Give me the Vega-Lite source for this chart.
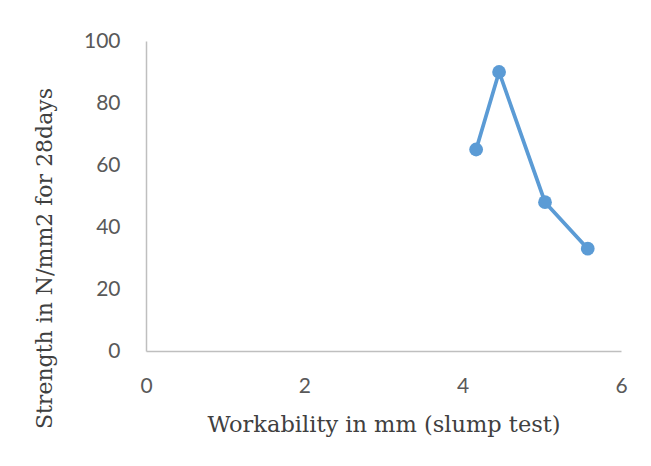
{
  "$schema": "https://vega.github.io/schema/vega-lite/v6.json",
  "autosize": "none",
  "width": 475,
  "height": 310,
  "padding": {"left": 146, "top": 41, "right": 30, "bottom": 115},
  "background": "white",
  "config": {"view": {"stroke": null}},
  "data": {"values": [
    {"slump": 4.17, "strength": 65},
    {"slump": 4.46, "strength": 90},
    {"slump": 5.04, "strength": 48},
    {"slump": 5.58, "strength": 33}
  ]},
  "encoding": {
    "x": {"field": "slump", "type": "quantitative",
      "scale": {"domain": [0, 6], "nice": false, "zero": false},
      "axis": {"title": "Workability in mm (slump test)", "values": [0, 2, 4, 6], "grid": false, "ticks": false, "labelFlush": false,
        "domainColor": "#bfbfbf", "domainWidth": 1.5, "labelFont": "Lato", "labelFontSize": 21, "labelColor": "#595959",
        "labelPadding": 24, "titleFont": "DejaVu Serif", "titleFontSize": 22.5, "titleFontWeight": "normal", "titleColor": "#404040", "titlePadding": 17}},
    "y": {"field": "strength", "type": "quantitative",
      "scale": {"domain": [0, 100], "nice": false},
      "axis": {"title": "Strength in N/mm2 for 28days", "values": [0, 20, 40, 60, 80, 100], "grid": false, "ticks": false,
        "domainColor": "#bfbfbf", "domainWidth": 1.5, "labelFont": "Lato", "labelFontSize": 21, "labelColor": "#595959",
        "labelPadding": 26, "titleFont": "DejaVu Serif", "titleFontSize": 22, "titleFontWeight": "normal", "titleColor": "#404040",
        "titleX": -90, "titleY": 217}}
  },
  "layer": [
    {"mark": {"type": "line", "color": "#5b9bd5", "strokeWidth": 3.75}},
    {"mark": {"type": "point", "filled": true, "color": "#5b9bd5", "size": 190, "opacity": 1}}
  ]
}
